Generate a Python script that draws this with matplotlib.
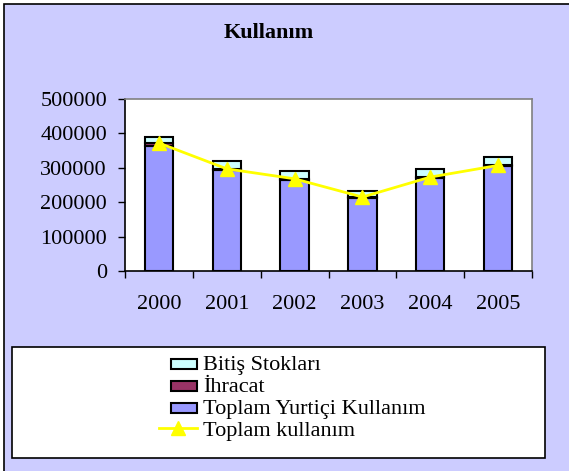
import matplotlib
matplotlib.use("Agg")
import matplotlib.pyplot as plt
from matplotlib.patches import Rectangle
from matplotlib.legend_handler import HandlerPatch
import numpy as np

# ── veriler ─────────────────────────────────────────
years = ["2000", "2001", "2002", "2003", "2004", "2005"]
yurtici = [363000, 294000, 265000, 213000, 270000, 304000]
ihracat = [9000, 3000, 3000, 2000, 3000, 3000]
stoklar = [17000, 23000, 24000, 18000, 23000, 25000]
toplam = [372000, 297000, 268000, 215000, 273000, 307000]
yticks = [0, 100000, 200000, 300000, 400000, 500000]

plt.rcParams["font.family"] = ["Liberation Serif", "DejaVu Serif"]
FS = 16

W, H = 569, 471
fig = plt.figure(figsize=(W / 100, H / 100), dpi=100)
fig.patch.set_facecolor("white")

# chart area background + border
fig.patches.append(Rectangle((4 / W, -0.1), 1.2, 1 - 4 / H + 0.1,
                             transform=fig.transFigure, facecolor="#CCCCFF",
                             edgecolor="black", linewidth=1.2, zorder=-10))

fig.text(269 / W, 1 - 33 / H, "Kullanım", ha="center", va="center",
         fontsize=FS, fontweight="bold")

ax = fig.add_axes([125 / W, 1 - 271 / H, 407 / W, 172 / H])
ax.set_facecolor("white")

x = np.arange(len(years))
bw = 0.42
b1 = ax.bar(x, yurtici, bw, color="#9999FF", edgecolor="black", linewidth=1.5,
            label="Toplam Yurtiçi Kullanım", zorder=2)
b2 = ax.bar(x, ihracat, bw, bottom=yurtici, color="#993366", edgecolor="black",
            linewidth=1.5, label="İhracat", zorder=2)
bottom2 = np.array(yurtici) + np.array(ihracat)
b3 = ax.bar(x, stoklar, bw, bottom=bottom2, color="#CCFFFF", edgecolor="black",
            linewidth=1.5, label="Bitiş Stokları", zorder=2)
ln, = ax.plot(x, toplam, color="#FFFF00", linewidth=2, marker="^",
              markersize=10, markeredgecolor="#FFFF00", label="Toplam kullanım",
              zorder=3)

ax.set_xlim(-0.5, len(years) - 0.5)
ax.set_ylim(0, 500000)
ax.set_yticks(yticks)
ax.set_yticklabels([str(v) for v in yticks])
ax.tick_params(axis="y", direction="out", length=5, width=1, pad=8, labelsize=FS)

# category boundaries as major ticks, labels on minor ticks
ax.set_xticks(np.arange(len(years) + 1) - 0.5)
ax.set_xticklabels([])
ax.set_xticks(x, minor=True)
ax.set_xticklabels(years, minor=True)
ax.tick_params(axis="x", which="major", direction="out", length=5, width=1)
ax.tick_params(axis="x", which="minor", length=0, pad=17, labelsize=FS)

for s in ["left", "bottom"]:
    ax.spines[s].set_color("black")
    ax.spines[s].set_linewidth(1.2)
for s in ["top", "right"]:
    ax.spines[s].set_color("#808080")
    ax.spines[s].set_linewidth(1.2)

# legend box
fig.patches.append(Rectangle((12 / W, 1 - 458 / H), 533 / W, 111 / H,
                             transform=fig.transFigure, facecolor="white",
                             edgecolor="black", linewidth=1.2, zorder=1))


def small_rect(legend, orig_handle, xdescent, ydescent, width, height, fontsize):
    w = width * 0.68
    return Rectangle((width - w - xdescent, -ydescent + height * 0.1), w, height * 0.65)


p1, p2, p3 = b1.patches[0], b2.patches[0], b3.patches[0]
hm = {p1: HandlerPatch(patch_func=small_rect),
      p2: HandlerPatch(patch_func=small_rect),
      p3: HandlerPatch(patch_func=small_rect)}
handles = [p3, p2, p1, ln]
labels = ["Bitiş Stokları", "İhracat", "Toplam Yurtiçi Kullanım", "Toplam kullanım"]
leg = fig.legend(handles, labels, loc="upper left",
                 bbox_to_anchor=(150 / W, 1 - 346 / H), frameon=False,
                 fontsize=FS, handlelength=1.7, handletextpad=0.3,
                 labelspacing=0.06, borderaxespad=0, handler_map=hm)
leg.set_zorder(5)

fig.savefig("out.png", dpi=100)
